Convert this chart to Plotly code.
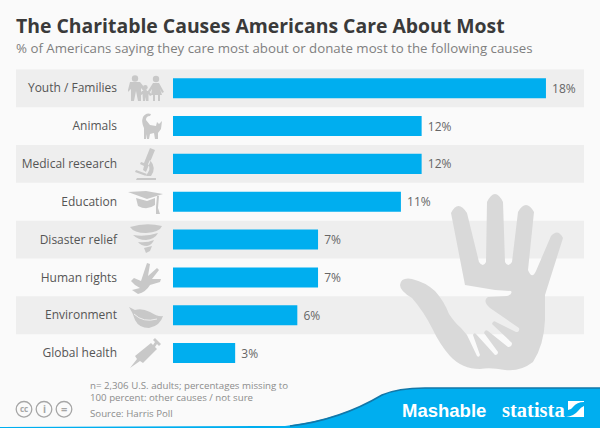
"""The charitable causes Americans care about most (Statista / Mashable)."""

import re

import plotly.graph_objects as go

categories = ["Youth / Families", "Animals", "Medical research", "Education",
              "Disaster relief", "Human rights", "Environment", "Global health"]
values = [18, 12, 12, 11, 7, 7, 6, 3]
value_labels = ["18%", "12%", "12%", "11%", "7%", "7%", "6%", "3%"]

W, H = 600, 428
FONT = "Open Sans"
BG = "#fafafa"
BAND = "#eeeeee"
BLUE = "#00aeef"
ICON = "#c8c8c8"
HAND = "#d9d9d9"

# all decoration paths are in screen pixels, to_paper converts them
ICON_PATHS = [
    # family
    "M130,82 L140,82 L148,92 L146,94 L141,88 L141,101 L138,101 L136,91 L134,101 L131,101 L131,89 "
    "L128,92 L128,90 Z",
    "M153,83 L159,83 L164,92 L162,93 L160,89 L162,95 L160,95 L160,101 L158,101 L158,95 L155,95 L155,101 "
    "L153,101 L153,95 L151,95 L152,89 L150,92 L148,91 Z",
    "M142,91 L149,91 L152,95 L150,96 L148.5,94 L148.5,101 L146,101 L145.5,97 L145,101 L143,101 L142.5,94 "
    "L140,96 L139,95 Z",
    # cat
    "M144,139 L144,128 Q141,122 143,117 Q146,112 151,114 L150,116 Q146,116 146,120 L150,125 L156,126 L157,122 "
    "L159,124 L162,121 L161,129 L158,133 L158,139 L155,139 L154,133 L150,134 L149,139 L147,139 L146,134 L146,139 Z",
    # microscope
    "M150,148 L155,150 L146,172 L143,170 L144,166 L140,164 L141,162 L144,163 Z M137,178 L156,178 L156,180 L136,180 Z "
    "M150,160 Q157,168 151,176 L145,176 Q152,170 148,164 Z M136,170 L147,174 L146,176 L135,172 Z",
    # mortarboard
    "M128,192 L146,191 L163,194 L147,199 Z M136,198 L147,201 L155,198 L155,205 Q147,211 138,206 Z "
    "M157,196 L159,196 L158,208 L160,214 L156,214 L156,207 Z",
    # tornado
    "M130,227 Q146,222 162,226 Q160,232 146,233 Q134,233 130,227 Z M133,235 Q146,237 158,233 Q155,239 146,240 "
    "Q138,240 133,235 Z M138,242 Q147,243 154,240 Q152,245 147,246 Q141,246 138,242 Z M144,248 L152,246 "
    "L150,251 L146,253 Z",
    # hand and dove
    "M147,263 L150,264 L148,276 L157,268 L159,270 L152,279 L161,279 L160,282 L150,285 Q146,292 138,294 "
    "L132,290 L140,288 Q135,286 131,281 L134,278 L141,281 Q143,275 147,263 Z",
    # leaf
    "M129,307 L135,310 Q142,308 150,312 Q158,317 163,316 Q160,326 149,328 Q139,328 135,320 Q133,313 129,307 Z",
    # syringe
    "M130,368 L137,359 L135,356 L151,343 L153,345 L155,342 L153,340 L155,338 L161,344 L159,346 L157,344 "
    "L155,347 L157,349 L143,363 L140,361 Z",
]
LEAF_VEIN = "M134,314 Q143,323 157,319"
# family heads: centre x, centre y, radius
HEADS = [(135, 78.5, 3.2), (156, 79, 3.2), (145.3, 87.5, 2.4)]
HAND_PATH = (
    "M451,213 Q458,199 467,213 L479,262 Q483,268 486,262 L487,202 Q495,186 503,202 L505,262 "
    "Q508,268 512,262 L518,212 Q526,198 534,212 L528,270 Q532,280 536,271 L551,236 Q558,228 563,238 L545,295 "
    "L545,320 Q544,345 533,362 Q520,372 505,370 Q490,367 480,369 Q462,369 450,356 Q440,345 432,328 "
    "Q424,312 412,298 Q400,291 400,285 Q401,277 412,279 Q425,282 435,291 Q444,301 449,314 Q455,323 461,328 "
    "L467,335 L477,356 Q479,358 480,355 L473,335 Q474,332 476,334 L495,355 Q498,355 498,352 L484,333 "
    "Q485,329 488,331 L508,347 Q512,347 512,343 L492,324 Q493,320 496,322 L516,332 Q520,332 519,328 "
    "L490,308 Q482,301 488,297 L507,296 Q513,294 511,291 L495,290 L465,285 Z"
)
FOOTER_PATH = "M0,427 L285,426 Q340,420 382,395 Q398,388 425,388 L600,388 L600,428 L0,428 Z"
FOOTER_EDGE = "M290,426 Q340,420 382,395 Q398,388 425,388 L600,388"
LOGO_PATH = ("M568,401 L584,401 L584,402 Q577,402 573,407 Q571,410 568,410 Z "
             "M584,406 L584,417 L566,417 Q574,416 578,411 Q581,407 584,406 Z")

y_top, y_bottom = 69.3, 372.0


def to_paper(path):
    """Turn an absolute pixel path into paper coordinates."""
    def conv(m):
        return f"{float(m.group(1)) / W:.5f},{1 - float(m.group(2)) / H:.5f}"
    return re.sub(r"([\d.]+),([\d.]+)", conv, path)


def px_shape(path, **kw):
    return dict(type="path", xref="paper", yref="paper", path=to_paper(path), **kw)


def px_circle(cx, cy, r, **kw):
    return dict(type="circle", xref="paper", yref="paper", x0=(cx - r) / W, x1=(cx + r) / W,
                y0=1 - (cy + r) / H, y1=1 - (cy - r) / H, **kw)


def note(text, x, y, size, color, family=FONT, anchor="left"):
    return dict(text=text, xref="paper", yref="paper", x=x / W, y=1 - y / H, xanchor=anchor,
                yanchor="middle", showarrow=False, font=dict(family=family, size=size, color=color))


fig = go.Figure()
fig.add_trace(go.Bar(x=values, y=categories, orientation="h", width=0.53,
                     marker_color=BLUE, marker_line_width=0,
                     text=value_labels, texttemplate="\u00a0%{text}",
                     textposition="outside", cliponaxis=False,
                     textfont=dict(family=FONT, size=12, color="#666666"),
                     hoverinfo="skip"))

shapes = []
for i in range(0, len(categories), 2):
    # alternating bands behind the bars
    shapes.append(dict(type="rect", xref="paper", yref="y", x0=16 / W, x1=584 / W,
                       y0=i - 0.5, y1=i + 0.5, fillcolor=BAND, line_width=0, layer="below"))
for p in ICON_PATHS:
    shapes.append(px_shape(p, fillcolor=ICON, line_width=0, layer="below"))
shapes.append(px_shape(LEAF_VEIN, line=dict(color=BAND, width=1), layer="below"))
for cx, cy, r in HEADS:
    shapes.append(px_circle(cx, cy, r, fillcolor=ICON, line_width=0, layer="below"))
shapes.append(px_shape(HAND_PATH, fillcolor=HAND, line_width=0, layer="below"))
shapes.append(px_shape(FOOTER_PATH, fillcolor=BLUE, line_width=0, layer="below"))
shapes.append(px_shape(FOOTER_EDGE, line=dict(color="#1277a8", width=1.5), layer="below"))
shapes.append(px_shape(LOGO_PATH, fillcolor="white", line_width=0))
# creative commons badges
for cx in (24, 44, 64):
    shapes.append(px_circle(cx, 409.3, 7.8, line=dict(color="#a6a6a6", width=1.3)))

annotations = [
    note("<b>The Charitable Causes Americans Care About Most</b>", 14, 26, 19.4, "#3a3a3a"),
    note("% of Americans saying they care most about or donate most to the following causes",
         14, 48, 13.27, "#7f7f7f"),
    note("n= 2,306 U.S. adults; percentages missing to", 87.5, 385.7, 9.7, "#8c8c8c"),
    note("100 percent: other causes / not sure", 87.5, 397.3, 9.7, "#8c8c8c"),
    note("Source: Harris Poll", 87.5, 413, 9.7, "#8c8c8c"),
    note("<b>cc</b>", 24, 408.5, 8, "#a6a6a6", anchor="center"),
    note("<b>i</b>", 44, 409, 10, "#a6a6a6", anchor="center"),
    note("<b>=</b>", 64, 408.5, 11, "#a6a6a6", anchor="center"),
    note("<b>Mashable</b>", 400, 410.5, 18.5, "white", family="Liberation Sans"),
    note("<b>statista</b>", 500, 409.5, 20.5, "white", family="Liberation Sans Narrow"),
]

fig.update_layout(
    width=W, height=H, margin=dict(l=0, r=0, t=0, b=0), showlegend=False,
    paper_bgcolor=BG, plot_bgcolor="rgba(0,0,0,0)",
    shapes=shapes, annotations=annotations,
    xaxis=dict(domain=[173 / W, 584 / W], range=[0, (584 - 173) / 20.72], visible=False),
    yaxis=dict(domain=[1 - y_bottom / H, 1 - y_top / H], range=[7.5, -0.5],
               type="category", categoryorder="array", categoryarray=categories,
               ticklabelstandoff=55, showgrid=False, zeroline=False, showline=False, ticks="",
               tickfont=dict(family=FONT, size=12, color="#555555")),
)

fig.write_html("out.html", config={"displayModeBar": False},
               post_script="document.body.style.margin='0';")
